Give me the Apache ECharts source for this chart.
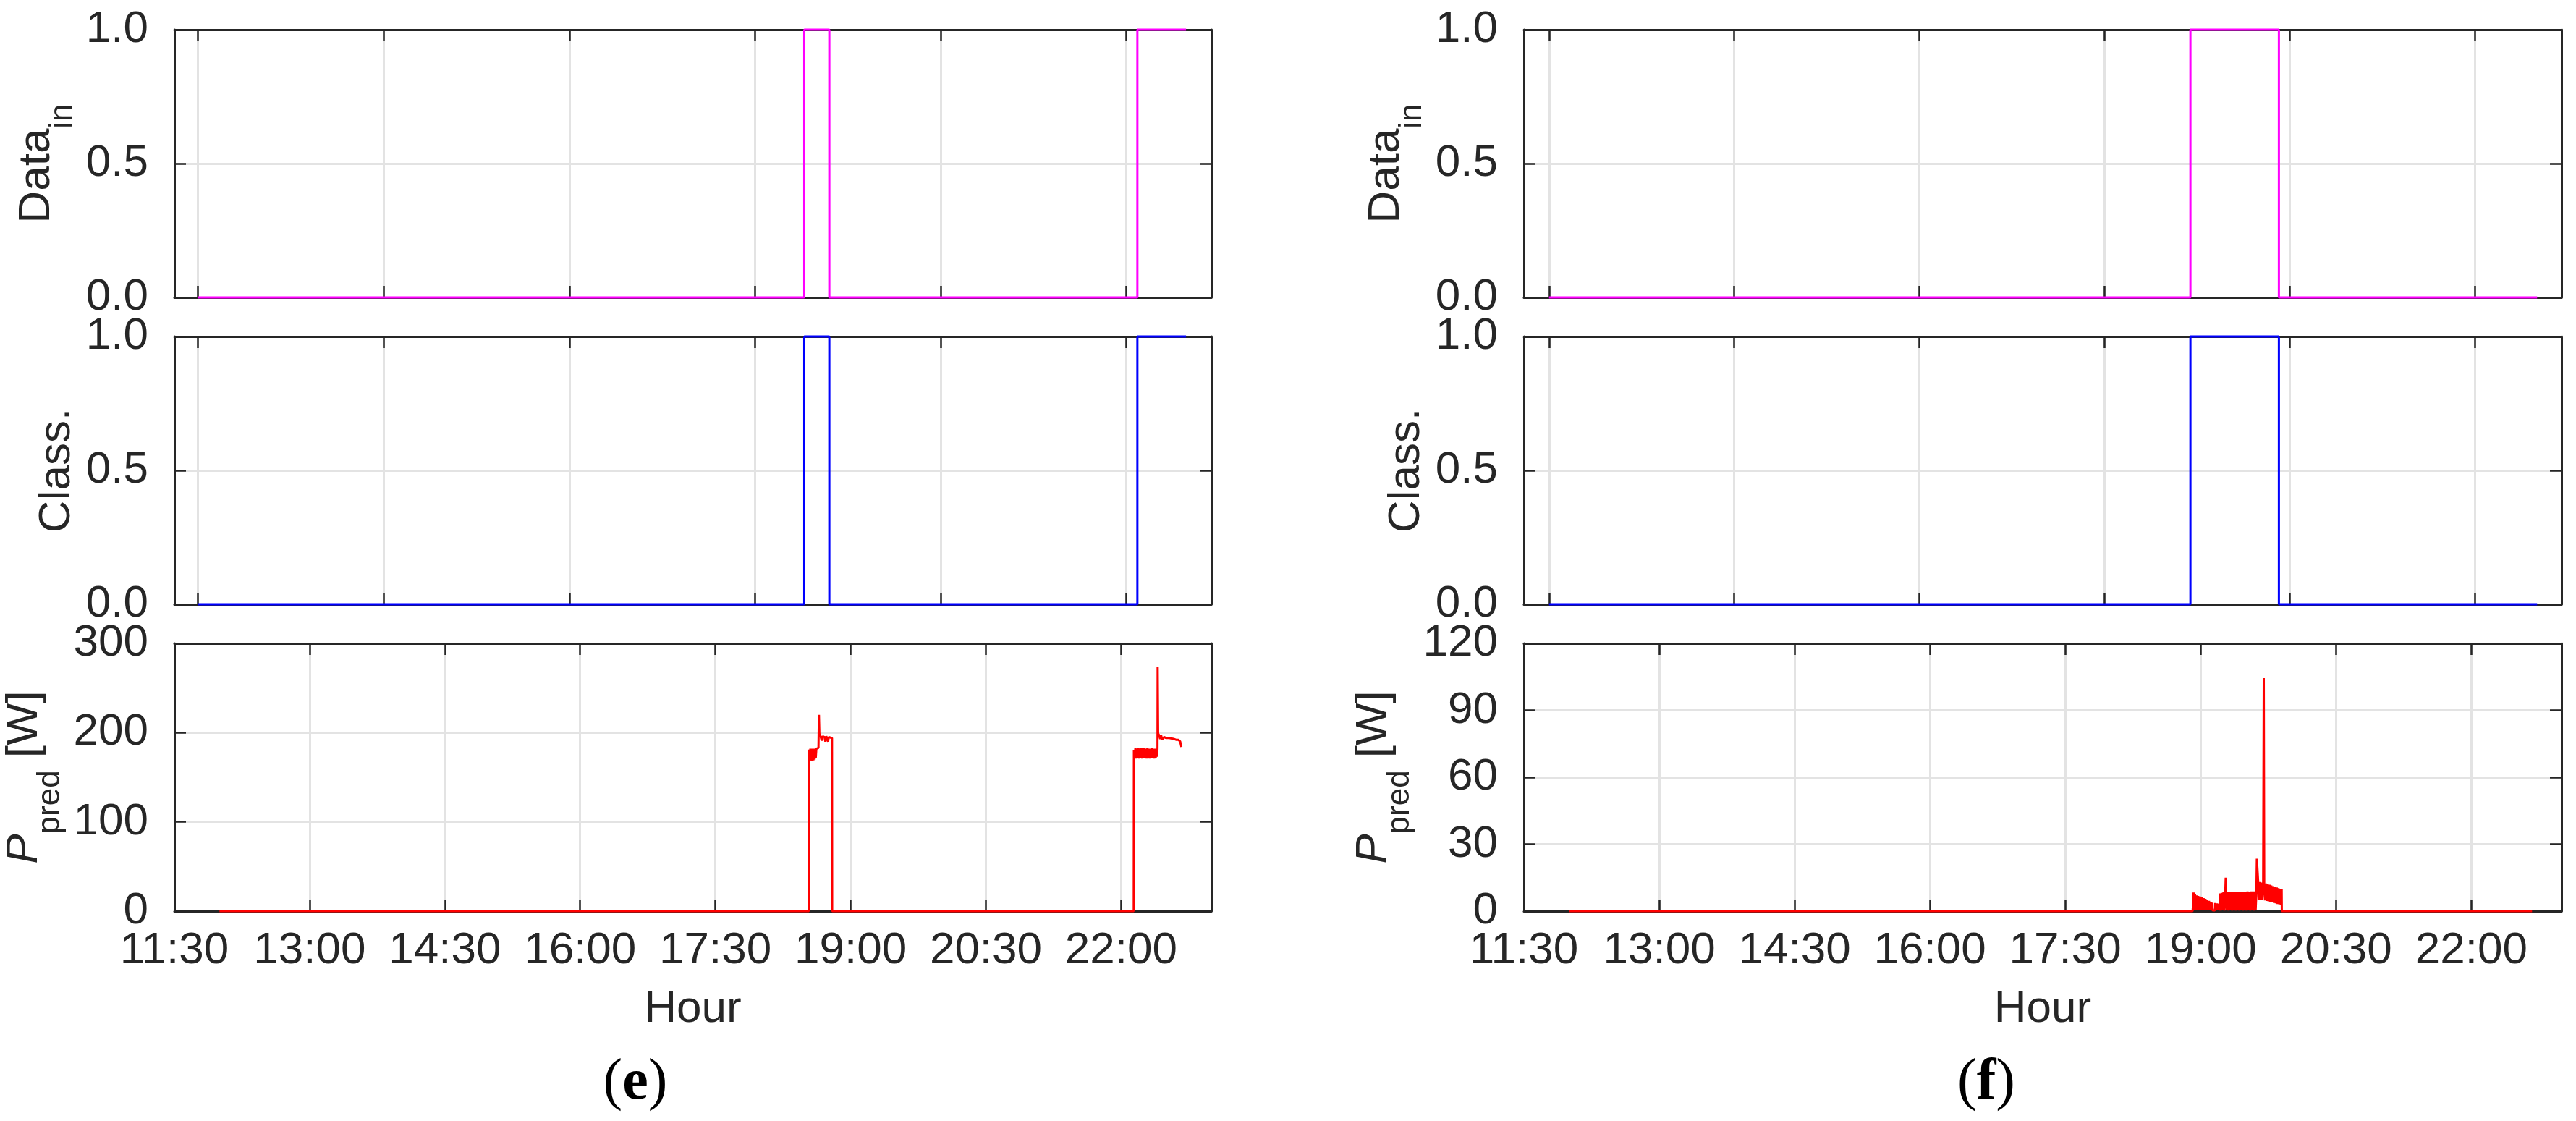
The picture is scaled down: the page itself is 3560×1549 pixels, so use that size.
<!DOCTYPE html>
<html>
<head>
<meta charset="utf-8">
<title>Data_in / Class. / P_pred</title>
<script src="https://cdn.jsdelivr.net/npm/echarts@6/dist/echarts.min.js"></script>
<style>
html, body { margin: 0; padding: 0; background: #fff; }
#chart { width: 3560px; height: 1549px; }
</style>
</head>
<body>
<div id="chart"></div>
<script>
// hour axis of the bottom row, minutes since midnight (11:30 .. 23:00)
var hourMin = 690, hourMax = 1380;
var hourTicks = [690, 780, 870, 960, 1050, 1140, 1230, 1320];
// upper two rows run on sample index, ticks without labels
var sampleTicks = [0, 1000, 2000, 3000, 4000, 5000];
var sampleRangeE = [-127, 5457];
var sampleRangeF = [-136, 5470];

// (e) input data / classification (sample index, state)
var dataInE = [[0, 0], [3265, 0], [3265, 1], [3400, 1], [3400, 0], [5059, 0], [5059, 1], [5321, 1]];
var classE = [[0, 0], [3265, 0], [3265, 1], [3400, 1], [3400, 0], [5059, 0], [5059, 1], [5321, 1]];
// (e) predicted power (minute of day, W)
var predE = [
  [720, 0], [1112.2, 0],
  [1112.4, 181], [1112.8, 168], [1113.2, 182], [1113.6, 169], [1114.0, 182], [1114.4, 168],
  [1114.8, 181], [1115.2, 169], [1115.6, 182], [1116.0, 170], [1116.4, 181], [1116.8, 172],
  [1117.2, 182], [1118.6, 183], [1118.9, 220], [1119.2, 199], [1119.8, 197], [1120.4, 196],
  [1120.8, 191], [1121.4, 196], [1122.6, 195], [1123.2, 190], [1123.8, 196], [1124.6, 195],
  [1125.0, 190], [1125.4, 195], [1127.6, 194], [1127.7, 0],
  [1328.4, 0],
  [1328.5, 180], [1329.0, 172], [1329.5, 183], [1330.0, 171], [1330.5, 182], [1331.0, 172],
  [1331.5, 183], [1332.0, 171], [1332.5, 182], [1333.0, 172], [1333.5, 183], [1334.0, 171],
  [1334.5, 182], [1335.0, 172], [1335.5, 183], [1336.0, 172], [1336.5, 182], [1337.0, 171],
  [1337.5, 183], [1338.0, 172], [1338.5, 182], [1339.0, 171], [1339.5, 182], [1340.0, 172],
  [1340.5, 183], [1341.0, 172], [1341.5, 182], [1342.0, 171], [1342.5, 182], [1343.0, 172],
  [1343.5, 182], [1344.0, 173], [1344.2, 183],
  [1344.3, 274], [1344.6, 199], [1345.3, 197], [1346.0, 193], [1346.6, 197], [1347.4, 192],
  [1348.5, 195], [1350.0, 194], [1352.0, 194], [1354.9, 193], [1356.5, 192], [1358.1, 192],
  [1359.3, 190], [1360.1, 184]
];

// (f)
var dataInF = [[0, 0], [3465, 0], [3465, 1], [3943, 1], [3943, 0], [5338, 0]];
var classF = [[0, 0], [3465, 0], [3465, 1], [3943, 1], [3943, 0], [5338, 0]];
var predF = [
  [720, 0], [1134.7, 0],
  [1135.3, 8.3], [1135.8, 0.5], [1136.3, 7.6], [1136.8, 0.4], [1137.3, 7.0], [1137.8, 0.6],
  [1138.4, 6.8], [1139.0, 0.5], [1139.6, 6.5], [1140.2, 0.4], [1140.8, 6.1], [1141.4, 0.5],
  [1142.0, 5.8], [1142.6, 0.4], [1143.2, 5.5], [1143.8, 0.5], [1144.4, 5.0], [1145.0, 0.4],
  [1145.6, 4.6], [1146.2, 0.5], [1146.8, 4.1], [1147.4, 0.3], [1147.6, 3.8],
  [1148.0, 0.3], [1149.5, 0.3],
  [1149.7, 3.6], [1150.3, 0.4], [1150.9, 3.4], [1151.5, 0.4], [1152.1, 3.3], [1152.6, 0.3],
  [1152.8, 7.9], [1153.4, 0.3], [1154.0, 8.2], [1154.6, 0.4], [1155.2, 8.4], [1155.8, 0.3],
  [1156.4, 8.5], [1156.7, 15.0], [1156.9, 8.5], [1157.4, 0.4], [1158.0, 8.6], [1158.6, 0.3],
  [1159.2, 8.6], [1159.8, 0.4], [1160.4, 8.7], [1161.0, 0.3], [1161.6, 8.7], [1162.2, 0.4],
  [1162.8, 8.6], [1163.4, 0.3], [1164.0, 8.7], [1164.6, 0.4], [1165.2, 8.7], [1165.8, 0.3],
  [1166.4, 8.6], [1167.0, 0.4], [1167.6, 8.7], [1168.2, 0.3], [1168.8, 8.7], [1169.4, 0.4],
  [1170.0, 8.7], [1170.6, 0.3], [1171.2, 8.8], [1171.8, 0.4], [1172.4, 8.7], [1173.0, 0.3],
  [1173.6, 8.8], [1174.2, 0.4], [1174.8, 8.8], [1175.4, 0.3], [1176.0, 8.8], [1176.6, 0.4],
  [1177.1, 8.8], [1177.4, 23.5], [1178.2, 14.0], [1178.6, 5.0],
  [1179.2, 13.0], [1179.8, 5.2], [1180.4, 12.8], [1181.0, 5.0], [1181.6, 12.6], [1182.0, 104.4],
  [1182.3, 12.5], [1182.8, 4.8], [1183.4, 12.4], [1184.0, 4.6], [1184.6, 12.1], [1185.2, 4.4],
  [1185.8, 11.8], [1186.4, 4.2], [1187.0, 11.5], [1187.6, 4.0], [1188.2, 11.2], [1188.8, 3.7],
  [1189.4, 11.0], [1190.0, 3.5], [1190.6, 10.6], [1191.2, 3.2], [1191.8, 10.3], [1192.4, 3.0],
  [1193.0, 10.0], [1193.6, 2.8], [1193.9, 9.8], [1194.0, 0],
  [1360.4, 0]
];

var AX = '#262626';
var GRID = '#e3e3e3';
var FONT = '"Liberation Sans", Arial, sans-serif';

function fmtHour(v) {
  var h = Math.floor(v / 60), m = Math.round(v % 60);
  return h + ':' + (m < 10 ? '0' : '') + m;
}

var nameRich = {
  m: { fontSize: 62, fontFamily: FONT, color: AX, verticalAlign: 'top' },
  i: { fontSize: 62, fontFamily: FONT, fontStyle: 'italic', color: AX, verticalAlign: 'top' },
  s: { fontSize: 44, fontFamily: FONT, color: AX, verticalAlign: 'bottom', padding: [45, 0, 0, 0] }
};

var columns = [
  { left: 241, width: 1433, sampleRange: sampleRangeE, rows: [dataInE, classE, predE], predMax: 300, predStep: 100, caption: 'e', captionX: 878 },
  { left: 2106, width: 1434, sampleRange: sampleRangeF, rows: [dataInF, classF, predF], predMax: 120, predStep: 30, caption: 'f', captionX: 2745 }
];
var rowTops = [41, 465, 889], rowHeight = 370;
var rowColors = ['#ff00ff', '#0000ff', '#ff0000'];
var rowNames = ['{m|Data}{s|in}', '{m|Class.}', '{i|P}{s|pred}{m| [W]}'];
var rowNameGaps = [132, 131, 149];

var grids = [], xAxes = [], yAxes = [], series = [], graphics = [];

columns.forEach(function (col) {
  rowTops.forEach(function (top, r) {
    var g = grids.length;
    grids.push({ left: col.left, top: top, width: col.width, height: rowHeight, containLabel: false, outerBoundsMode: 'none' });

    var isHour = r === 2;
    var xMin = isHour ? hourMin : col.sampleRange[0];
    var xMax = isHour ? hourMax : col.sampleRange[1];
    var xTicks = isHour ? hourTicks : sampleTicks;
    var xIndex = xAxes.length;
    ['bottom', 'top'].forEach(function (pos) {
      var main = pos === 'bottom';
      var ax = {
        gridIndex: g, type: 'value', position: pos, min: xMin, max: xMax,
        axisLine: { onZero: false, lineStyle: { color: AX, width: 3 } },
        axisTick: { inside: true, length: 16, customValues: xTicks, lineStyle: { color: AX, width: 2.5 } },
        axisLabel: { show: false },
        splitLine: { show: main, lineStyle: { color: GRID, width: 3 } }
      };
      if (main && isHour) {
        ax.axisLabel = { show: true, customValues: hourTicks, formatter: fmtHour, margin: 24, fontSize: 62, fontFamily: FONT, color: AX };
        ax.name = 'Hour';
        ax.nameLocation = 'middle';
        ax.nameGap = 105;
        ax.nameMoveOverlap = false;
        ax.nameTextStyle = { fontSize: 62, fontFamily: FONT, color: AX };
      }
      xAxes.push(ax);
    });

    var yMax = isHour ? col.predMax : 1;
    var yStep = isHour ? col.predStep : 0.5;
    var yIndex = yAxes.length;
    ['left', 'right'].forEach(function (pos) {
      var main = pos === 'left';
      var ay = {
        gridIndex: g, type: 'value', position: pos, min: 0, max: yMax, interval: yStep,
        axisLine: { onZero: false, lineStyle: { color: AX, width: 3 } },
        axisTick: { inside: true, length: 16, lineStyle: { color: AX, width: 2.5 } },
        axisLabel: { show: false },
        splitLine: { show: main, lineStyle: { color: GRID, width: 3 } }
      };
      if (main) {
        ay.axisLabel = {
          show: true, margin: 36, fontSize: 62, fontFamily: FONT, color: AX,
          formatter: isHour ? function (v) { return String(v); } : function (v) { return v.toFixed(1); }
        };
        ay.name = rowNames[r];
        ay.nameLocation = 'middle';
        ay.nameRotate = 90;
        ay.nameGap = rowNameGaps[r];
        ay.nameMoveOverlap = false;
        ay.nameTextStyle = { fontSize: 62, fontFamily: FONT, color: AX, rich: nameRich };
      }
      yAxes.push(ay);
    });

    series.push({
      type: 'line', xAxisIndex: xIndex, yAxisIndex: yIndex,
      data: col.rows[r], symbol: 'none', clip: false, z: 3,
      lineStyle: { color: rowColors[r], width: 3 }
    });
  });

  graphics.push({
    type: 'text', x: col.captionX, y: 1497,
    style: {
      text: '{p|(}{b|' + col.caption + '}{p|)}',
      align: 'center', verticalAlign: 'middle',
      rich: {
        p: { fontSize: 80, fontFamily: '"Liberation Serif", serif', color: '#000' },
        b: { fontSize: 80, fontFamily: '"Liberation Serif", serif', fontWeight: 'bold', color: '#000' }
      }
    }
  });
});

var chart = echarts.init(document.getElementById('chart'));
chart.setOption({
  animation: false,
  backgroundColor: '#fff',
  grid: grids,
  xAxis: xAxes,
  yAxis: yAxes,
  series: series,
  graphic: graphics
});
</script>
</body>
</html>
